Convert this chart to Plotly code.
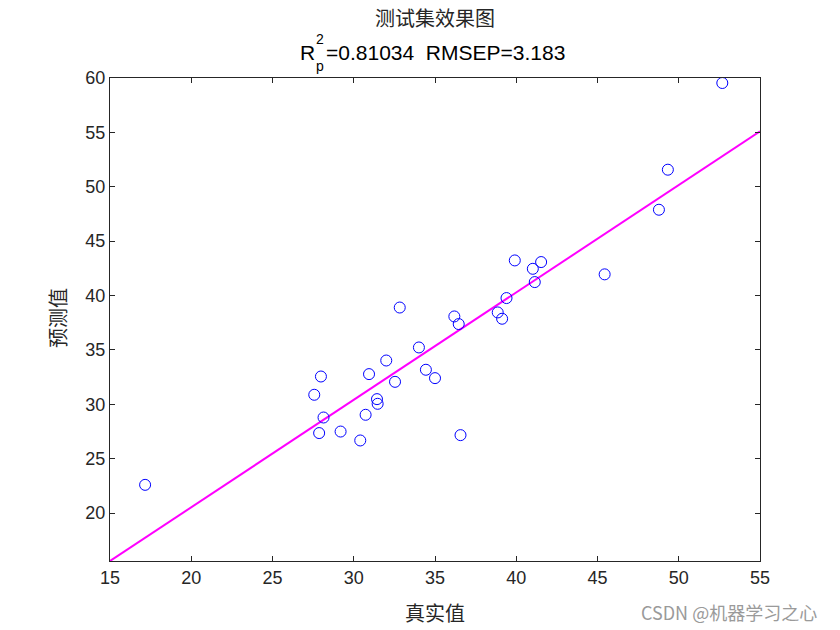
import plotly.graph_objects as go

# data
true_vals = [17.16, 52.68, 49.33, 48.78, 45.44, 39.91, 41.53, 41.02, 41.14, 39.40,
             38.86, 39.13, 32.83, 36.19, 36.46, 34.01, 32.00, 27.98, 30.94, 34.44,
             32.54, 35.00, 27.57, 31.43, 31.47, 28.14, 30.73, 27.87, 29.19, 30.40, 36.57]
pred_vals = [22.60, 59.54, 51.57, 47.89, 41.95, 43.23, 43.08, 42.46, 41.24, 39.77,
             38.45, 37.87, 38.90, 38.08, 37.38, 35.23, 34.03, 32.56, 32.78, 33.18,
             32.07, 32.41, 30.88, 30.48, 30.05, 28.79, 29.04, 27.36, 27.50, 26.68, 27.17]
fit_x = [15, 55]
fit_y = [15.6, 55.1]
x_ticks = [15, 20, 25, 30, 35, 40, 45, 50, 55]
y_ticks = [20, 25, 30, 35, 40, 45, 50, 55, 60]
x_range = [15, 55]
y_range = [15.6, 60]

fig = go.Figure()
fig.add_trace(go.Scatter(x=fit_x, y=fit_y, mode="lines",
                         line=dict(color="#FF00FF", width=2), showlegend=False))
fig.add_trace(go.Scatter(x=true_vals, y=pred_vals, mode="markers",
                         marker=dict(symbol="circle-open", size=11, color="#0000FF",
                                     line=dict(color="#0000FF", width=1)),
                         showlegend=False))

axis_common = dict(showgrid=False, zeroline=False, showline=True, mirror="ticks",
                   linecolor="#262626", linewidth=1, ticks="inside", ticklen=5,
                   tickcolor="#262626",
                   tickfont=dict(family="Liberation Sans, Arial", size=18, color="#262626"))

fig.update_xaxes(range=x_range, tickvals=x_ticks, **axis_common)
fig.update_yaxes(range=y_range, tickvals=y_ticks, **axis_common)

cjk = "Noto Sans CJK SC"
arial = "Liberation Sans, Arial"
ann = [
    dict(text="测试集效果图", x=435, y=630 - 18, font=dict(family=cjk, size=20, color="#262626")),
    dict(text="R", x=299, y=630 - 52, xanchor="left",
         font=dict(family=arial, size=21, color="#000000")),
    dict(text="2", x=319.5, y=630 - 39, xanchor="center",
         font=dict(family=arial, size=14, color="#000000")),
    dict(text="p", x=319.5, y=630 - 66, xanchor="center",
         font=dict(family=arial, size=14, color="#000000")),
    dict(text="=0.81034&nbsp;&nbsp;RMSEP=3.183", x=324.5, y=630 - 52, xanchor="left",
         font=dict(family=arial, size=21, color="#000000")),
    dict(text="真实值", x=435, y=630 - 612, font=dict(family=cjk, size=20, color="#262626")),
    dict(text="预测值", x=57, y=630 - 318, textangle=-90,
         font=dict(family=cjk, size=20, color="#262626")),
    dict(text="CSDN @机器学习之心", x=729, y=630 - 612,
         font=dict(family=cjk, size=18, color="#9a9a9a")),
]
annotations = []
for a in ann:
    a = dict(a)
    a.setdefault("xanchor", "center")
    a.update(xref="paper", yref="paper", showarrow=False, yanchor="middle", borderpad=0)
    a["x"] = (a["x"] - 110) / 650
    a["y"] = (a["y"] - 69) / (630 - 78 - 69)
    annotations.append(a)

fig.update_layout(width=840, height=630, plot_bgcolor="white", paper_bgcolor="white",
                  margin=dict(l=110, r=80, t=78, b=69), annotations=annotations)

fig.write_html("out.html")
